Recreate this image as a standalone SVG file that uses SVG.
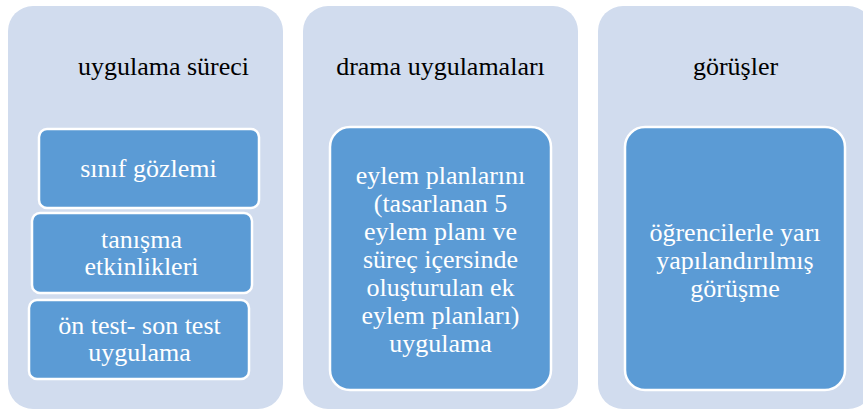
<svg xmlns="http://www.w3.org/2000/svg" width="863" height="410" viewBox="0 0 863 410">
<style>
.panel{fill:#d1dcee;}
.box{fill:#5b9bd5;stroke:#ffffff;stroke-width:2.5;}
.title{font-family:"Liberation Serif","Times New Roman",serif;font-size:26px;fill:#000000;text-anchor:middle;}
.label{font-family:"Liberation Serif","Times New Roman",serif;font-size:26px;fill:#ffffff;text-anchor:middle;}
</style>
<rect width="863" height="410" fill="#ffffff"/>
<g id="panel-uygulama">
<rect class="panel" x="8" y="6" width="275" height="403" rx="25"/>
<text class="title" x="163.5" y="75">uygulama süreci</text>
</g>
<g id="node-sinif">
<rect class="box" x="39" y="129" width="220" height="79" rx="8"/>
<text class="label" x="148.5" y="177">sınıf gözlemi</text>
</g>
<g id="node-tanisma">
<rect class="box" x="32" y="213" width="220" height="80" rx="8"/>
<text class="label" x="141.5" y="248">tanışma</text>
<text class="label" x="141.5" y="275">etkinlikleri</text>
</g>
<g id="node-test">
<rect class="box" x="29" y="300" width="220" height="79" rx="8"/>
<text class="label" x="139.5" y="334">ön test- son test</text>
<text class="label" x="139.5" y="361">uygulama</text>
</g>
<g id="panel-drama">
<rect class="panel" x="303" y="6" width="275" height="403" rx="25"/>
<text class="title" x="440.5" y="75">drama uygulamaları</text>
</g>
<g id="node-eylem">
<rect class="box" x="330" y="127" width="221" height="263" rx="20"/>
<text class="label" x="440.5" y="184">eylem planlarını</text>
<text class="label" x="440.5" y="212">(tasarlanan 5</text>
<text class="label" x="440.5" y="240">eylem planı ve</text>
<text class="label" x="440.5" y="268">süreç içersinde</text>
<text class="label" x="440.5" y="296">oluşturulan ek</text>
<text class="label" x="440.5" y="324">eylem planları)</text>
<text class="label" x="440.5" y="352">uygulama</text>
</g>
<g id="panel-gorusler">
<rect class="panel" x="598" y="6" width="275" height="403" rx="25"/>
<text class="title" x="735.5" y="75">görüşler</text>
</g>
<g id="node-gorusme">
<rect class="box" x="625" y="127" width="220" height="263" rx="20"/>
<text class="label" x="735" y="241">öğrencilerle yarı</text>
<text class="label" x="735" y="269">yapılandırılmış</text>
<text class="label" x="735" y="297">görüşme</text>
</g>
<g id="connectors"></g>
</svg>
